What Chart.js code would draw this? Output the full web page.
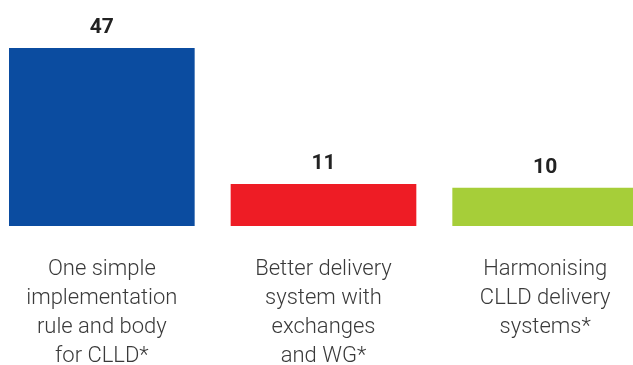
<!DOCTYPE html>
<html>
<head>
<meta charset="utf-8">
<script src="https://cdn.jsdelivr.net/npm/chart.js@4.4.1/dist/chart.umd.min.js"></script>
<style>
  html, body { margin: 0; padding: 0; background: #ffffff; overflow: hidden; }
  #wrap { position: relative; width: 633px; height: 365px; overflow: hidden; }
  #c { position: absolute; left: -9px; top: 0; }
</style>
</head>
<body>
<div id="wrap"><canvas id="c" width="665" height="365"></canvas></div>
<script>
const categories = [
  ["One simple", "implementation", "rule and body", "for CLLD*"],
  ["Better delivery", "system with", "exchanges", "and WG*"],
  ["Harmonising", "CLLD delivery", "systems*"]
];
const values = [47, 11, 10];
const barColors = ["#0b4ca0", "#ee1c25", "#a6ce39"];

const valueLabels = {
  id: 'valueLabels',
  afterDatasetsDraw(chart) {
    const ctx = chart.ctx;
    const meta = chart.getDatasetMeta(0);
    ctx.save();
    ctx.font = "bold 21px Roboto, 'Liberation Sans', sans-serif";
    ctx.fillStyle = "#222222";
    ctx.textAlign = "center";
    ctx.textBaseline = "alphabetic";
    meta.data.forEach((bar, i) => {
      ctx.fillText(String(values[i]), bar.x, bar.y - 15);
    });
    ctx.restore();
  }
};

new Chart(document.getElementById('c'), {
  type: 'bar',
  data: {
    labels: categories,
    datasets: [{
      data: values,
      backgroundColor: barColors,
      borderWidth: 0,
      barThickness: 185
    }]
  },
  options: {
    responsive: false,
    devicePixelRatio: 1,
    animation: false,
    layout: { padding: { top: 3, left: 0, right: 0, bottom: 0 } },
    plugins: { legend: { display: false }, tooltip: { enabled: false } },
    scales: {
      y: { display: false, min: 0, max: 59 },
      x: {
        grid: { display: false },
        border: { display: false },
        ticks: {
          padding: 21,
          maxRotation: 0,
          autoSkip: false,
          color: "#3a3a3a",
          font: { family: "Roboto, 'Liberation Sans', sans-serif", size: 22, weight: 300, lineHeight: 29 / 22 }
        },
        afterFit(scale) { scale.height = 139; }
      }
    }
  },
  plugins: [valueLabels]
});
</script>
</body>
</html>
